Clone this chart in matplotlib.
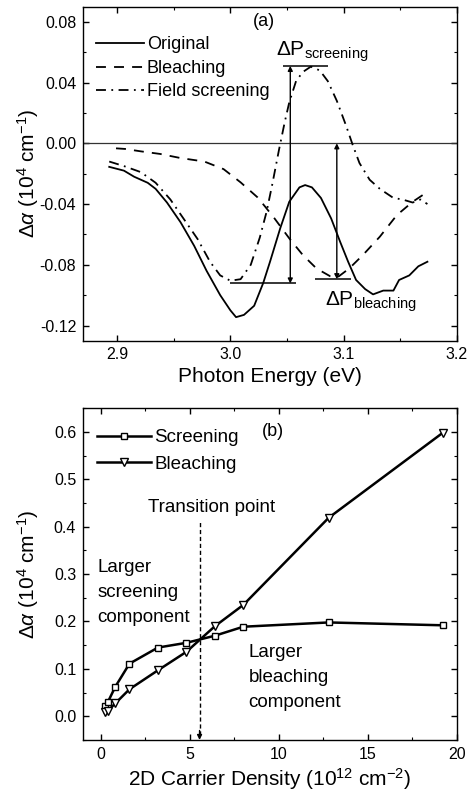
import numpy as np
import matplotlib
matplotlib.use('Agg')
import matplotlib.pyplot as plt
from matplotlib.ticker import MultipleLocator, FormatStrFormatter

plt.rcParams['font.family'] = ['Liberation Sans', 'DejaVu Sans']
plt.rcParams['mathtext.fontset'] = 'custom'
plt.rcParams['mathtext.rm'] = 'Liberation Sans'
plt.rcParams['mathtext.it'] = 'Liberation Sans:italic'
plt.rcParams['mathtext.bf'] = 'Liberation Sans:bold'
plt.rcParams['axes.unicode_minus'] = False

# (a) absorption change spectra
orig_x = [2.893, 2.906, 2.915, 2.927, 2.934, 2.944, 2.956, 2.968, 2.979, 2.991, 3.000, 3.005,
          3.012, 3.021, 3.029, 3.035, 3.044, 3.052, 3.061, 3.066, 3.072, 3.080, 3.089, 3.097,
          3.104, 3.111, 3.119, 3.126, 3.135, 3.144, 3.149, 3.158, 3.166, 3.174]
orig_y = [-0.0155, -0.018, -0.022, -0.026, -0.030, -0.039, -0.052, -0.0675, -0.084, -0.100, -0.110, -0.1145,
          -0.113, -0.107, -0.092, -0.078, -0.056, -0.0385, -0.029, -0.0275, -0.029, -0.036, -0.0495, -0.065,
          -0.078, -0.090, -0.096, -0.0995, -0.097, -0.097, -0.090, -0.087, -0.081, -0.078]

bleach_x = [2.899, 2.907, 2.921, 2.938, 2.956, 2.977, 2.994, 3.009, 3.024, 3.031, 3.039, 3.052,
            3.064, 3.076, 3.088, 3.094, 3.105, 3.117, 3.132, 3.147, 3.161, 3.170, 3.174]
bleach_y = [-0.0033, -0.0037, -0.0053, -0.007, -0.0097, -0.012, -0.017, -0.0257, -0.0356, -0.042, -0.0495, -0.0626,
            -0.0736, -0.0824, -0.0875, -0.0886, -0.0824, -0.0736, -0.0615, -0.0473, -0.0385, -0.034, -0.0323]

field_x = [2.893, 2.906, 2.921, 2.934, 2.947, 2.959, 2.971, 2.982, 2.991, 3.000, 3.009, 3.018,
           3.026, 3.032, 3.037, 3.043, 3.048, 3.052, 3.058, 3.064, 3.071, 3.079, 3.086, 3.094,
           3.102, 3.108, 3.114, 3.123, 3.132, 3.144, 3.152, 3.161, 3.168, 3.174]
field_y = [-0.012, -0.015, -0.019, -0.026, -0.037, -0.050, -0.063, -0.078, -0.087, -0.0905, -0.0895, -0.080,
           -0.062, -0.045, -0.027, -0.004, 0.014, 0.027, 0.041, 0.047, 0.0505, 0.048, 0.041, 0.028,
           0.012, -0.001, -0.013, -0.024, -0.030, -0.036, -0.037, -0.039, -0.037, -0.040]

# (b) screening / bleaching components vs carrier density
density = [0.2, 0.4, 0.8, 1.6, 3.2, 4.8, 6.4, 8.0, 12.8, 19.2]
screening = [0.022, 0.031, 0.062, 0.111, 0.145, 0.155, 0.170, 0.189, 0.198, 0.192]
bleaching = [0.008, 0.012, 0.027, 0.057, 0.097, 0.136, 0.190, 0.235, 0.419, 0.598]


def style_axes(ax, xpad):
    for s in ax.spines.values():
        s.set_linewidth(1.0)
    ax.tick_params(which='both', direction='in', top=True, right=True, labelsize=11.5)
    ax.tick_params(which='major', length=4, width=1)
    ax.tick_params(which='minor', length=2.5, width=0.8)
    ax.tick_params(axis='y', pad=5)
    ax.tick_params(axis='x', pad=xpad)


fig = plt.figure(figsize=(4.7, 7.96), dpi=100)

ax1 = fig.add_axes([0.177, 0.572, 0.795, 0.4196])
ax1.axhline(0, color='#333333', lw=0.9)
ax1.plot(orig_x, orig_y, color='k', lw=1.3, label='Original')
ax1.plot(bleach_x, bleach_y, color='k', lw=1.3, linestyle=(0, (5.5, 4.5)), label='Bleaching')
ax1.plot(field_x, field_y, color='k', lw=1.3, linestyle=(0, (5.5, 3, 1, 3)), label='Field screening')

# delta P markers
ax1.hlines(0.051, 3.0465, 3.0862, color='k', lw=1.1)
ax1.hlines(-0.0923, 3.0, 3.058, color='k', lw=1.1)
ax1.hlines(-0.0895, 3.075, 3.1068, color='k', lw=1.1)
ax1.annotate('', xy=(3.0529, 0.051), xytext=(3.0529, -0.0923),
             arrowprops=dict(arrowstyle='<|-|>', color='k', lw=1.0, mutation_scale=7, shrinkA=0, shrinkB=0))
ax1.annotate('', xy=(3.094, 0.0), xytext=(3.094, -0.0895),
             arrowprops=dict(arrowstyle='<|-|>', color='k', lw=1.0, mutation_scale=7, shrinkA=0, shrinkB=0))
ax1.text(3.0406, 0.0574, r'$\Delta\mathrm{P}_{\mathrm{screening}}$', fontsize=15, ha='left', va='baseline')
ax1.text(3.0832, -0.107, r'$\Delta\mathrm{P}_{\mathrm{bleaching}}$', fontsize=15, ha='left', va='baseline')
ax1.text(3.0294, 0.0802, '(a)', fontsize=13, ha='center', va='center')

ax1.set_xlim(2.87, 3.2)
ax1.set_ylim(-0.13, 0.09)
ax1.xaxis.set_major_locator(MultipleLocator(0.1))
ax1.xaxis.set_minor_locator(MultipleLocator(0.05))
ax1.yaxis.set_major_locator(MultipleLocator(0.04))
ax1.yaxis.set_minor_locator(MultipleLocator(0.02))
ax1.xaxis.set_major_formatter(FormatStrFormatter('%.1f'))
ax1.yaxis.set_major_formatter(FormatStrFormatter('%.2f'))
style_axes(ax1, 4.5)
ax1.set_xlabel('Photon Energy (eV)', fontsize=15)
ax1.set_ylabel(r'$\Delta\alpha$ (10$^4$ cm$^{-1}$)', fontsize=15)
ax1.xaxis.set_label_coords(0.5, -0.078)
ax1.yaxis.set_label_coords(-0.112, 0.5)
ax1.legend(loc='upper left', bbox_to_anchor=(0.033, 0.911), frameon=False, fontsize=13,
           handlelength=2.7, handletextpad=0.15, labelspacing=0.36, borderaxespad=0, borderpad=0)

ax2 = fig.add_axes([0.177, 0.0704, 0.795, 0.4167])
ax2.plot(density, screening, color='k', lw=1.8, marker='s', markersize=4.6, mfc='white', mec='k', mew=1.0,
         label='Screening')
ax2.plot(density, bleaching, color='k', lw=1.8, marker='v', markersize=5.6, mfc='white', mec='k', mew=1.0,
         label='Bleaching')

ax2.vlines(5.54, -0.04, 0.412, color='k', lw=1.0, linestyles=(0, (3, 2)))
ax2.annotate('', xy=(5.54, -0.05), xytext=(5.54, -0.03),
             arrowprops=dict(arrowstyle='-|>', color='k', lw=1.0, mutation_scale=7, shrinkA=0, shrinkB=0))
ax2.text(6.2, 0.44, 'Transition point', fontsize=13.5, ha='center', va='center')
ax2.text(-0.22, 0.261, 'Larger\nscreening\ncomponent', fontsize=13.5, ha='left', va='center',
         linespacing=1.6)
ax2.text(8.29, 0.082, 'Larger\nbleaching\ncomponent', fontsize=13.5, ha='left', va='center',
         linespacing=1.6)
ax2.text(9.66, 0.602, '(b)', fontsize=13, ha='center', va='center')

ax2.set_xlim(-1, 20)
ax2.set_ylim(-0.05, 0.65)
ax2.xaxis.set_major_locator(MultipleLocator(5))
ax2.xaxis.set_minor_locator(MultipleLocator(2.5))
ax2.yaxis.set_major_locator(MultipleLocator(0.1))
ax2.yaxis.set_minor_locator(MultipleLocator(0.05))
ax2.yaxis.set_major_formatter(FormatStrFormatter('%.1f'))
style_axes(ax2, 5)
ax2.set_xlabel(r'2D Carrier Density (10$^{12}$ cm$^{-2}$)', fontsize=15)
ax2.set_ylabel(r'$\Delta\alpha$ (10$^4$ cm$^{-1}$)', fontsize=15)
ax2.xaxis.set_label_coords(0.5, -0.08)
ax2.yaxis.set_label_coords(-0.112, 0.5)
ax2.legend(loc='upper left', bbox_to_anchor=(0.037, 0.937), frameon=False, fontsize=13.5,
           handlelength=2.9, handletextpad=0.15, labelspacing=0.5, borderaxespad=0, borderpad=0)

fig.savefig('out.png', dpi=100)
